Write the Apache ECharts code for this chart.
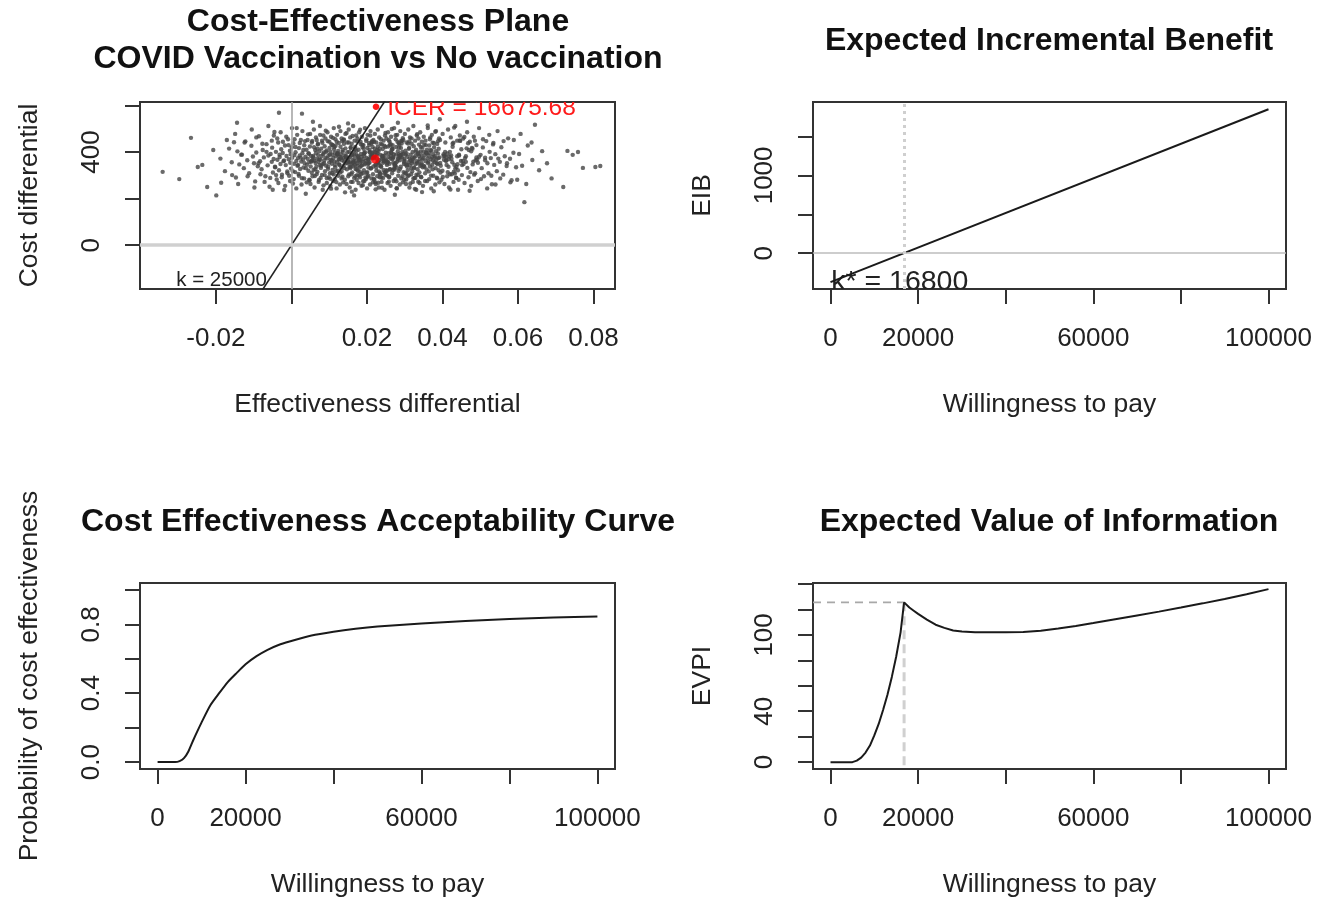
<!DOCTYPE html>
<html>
<head>
<meta charset="utf-8">
<title>BCEA summary</title>
<script src="https://cdn.jsdelivr.net/npm/echarts@6/dist/echarts.min.js"></script>
<style>
  html, body { margin: 0; padding: 0; background: #fff; }
  #main { width: 1319px; height: 900px; }
</style>
</head>
<body>
<div id="main"></div>
<script>
// ---- values ----

// CE plane: simulated (delta effectiveness, delta cost) pairs
var psaPoints = [
  [-.0341,315],[-.0297,284],[-.0266,461],[-.0248,336],[-.0236,345],[-.0223,250],[-.0207,409],
  [-.0199,214],[-.0188,372],[-.0176,318],[-.0165,415],[-.0158,356],[-.0152,442],[-.0144,526],
  [-.0147,291],[-.0143,403],[-.0138,347],[-.0131,389],[-.0126,331],[-.0122,446],[-.0117,365],[-.0112,309],[-.0106,427],[-.0102,381],
  [-.0099,352],[-.0096,274],[-.0093,398],[-.0089,339],[-.0086,468],[-.0083,361],[-.0079,326],[-.0076,409],[-.0073,377],[-.0069,296],[-.0066,434],[-.0063,343],[-.0061,385],[-.0058,251],[-.0055,392],[-.0052,358],[-.0051,419],
  [-.0049,312],[-.0047,370],[-.0045,486],[-.0043,335],[-.0041,401],[-.0039,282],[-.0037,367],[-.0035,441],[-.0033,322],[-.0031,379],[-.0029,349],[-.0027,412],[-.0025,303],[-.0023,396],[-.0021,361],[-.0019,237],[-.0017,428],[-.0015,344],[-.0013,383],[-.0011,317],[-.0009,455],[-.0007,369],[-.0006,298],[-.0004,406],[-.0003,354],[-.0002,391],[-.0001,329],[-.0033,569],
  [.0001,421],[.0002,376],[.0004,265],[.0005,438],[.0007,350],[.0008,387],[.0010,314],[.0011,399],[.0013,362],[.0014,503],[.0016,341],[.0017,374],[.0019,306],[.0020,417],[.0022,385],[.0023,327],[.0025,452],[.0026,359],[.0028,288],[.0029,395],[.0031,368],[.0032,334],[.0034,429],[.0035,352],[.0037,380],[.0038,221],[.0040,410],[.0041,346],[.0043,371],[.0044,476],[.0045,320],[.0046,393],[.0047,357],[.0048,279],[.0049,424],[.0028,565],
  [.0051,338],[.0052,383],[.0053,363],[.0054,311],[.0055,448],[.0056,366],[.0057,530],[.0058,378],[.0059,324],[.0060,421],[.0061,362],[.0062,297],[.0063,409],[.0064,353],[.0065,395],[.0066,337],[.0067,452],[.0068,371],[.0069,315],[.0070,433],[.0071,387],[.0072,358],[.0073,280],[.0074,404],[.0075,345],[.0076,474],[.0077,367],[.0078,332],[.0079,415],[.0080,383],[.0081,302],[.0082,440],[.0083,349],[.0084,391],[.0085,257],[.0086,398],[.0087,364],[.0088,425],[.0089,318],[.0090,376],[.0091,492],[.0092,341],[.0093,407],[.0094,288],[.0095,373],[.0096,447],[.0097,328],[.0098,385],
  [.0100,355],[.0101,418],[.0102,309],[.0103,402],[.0104,367],[.0105,243],[.0106,434],[.0107,350],[.0108,389],[.0109,323],[.0110,461],[.0111,375],[.0112,304],[.0113,412],[.0114,360],[.0115,397],[.0116,335],[.0117,427],[.0118,382],[.0119,271],[.0120,444],[.0121,356],[.0122,393],[.0123,320],[.0124,405],[.0125,368],[.0126,509],[.0127,347],[.0128,380],[.0129,312],[.0130,423],[.0131,391],[.0132,333],[.0133,458],[.0134,365],[.0135,294],[.0136,401],[.0137,374],[.0138,340],[.0139,435],[.0140,358],[.0141,386],[.0142,227],[.0143,416],[.0144,352],[.0145,377],[.0146,482],[.0147,326],[.0148,399],[.0149,363],[.0103,285],[.0109,430],[.0115,344],[.0121,389],[.0127,369],[.0133,317],[.0139,454],[.0145,372],
  [.0150,523],[.0151,359],[.0152,441],[.0153,304],[.0154,356],[.0155,376],[.0156,331],[.0157,417],[.0158,272],[.0159,350],[.0160,386],[.0161,313],[.0162,469],[.0163,364],[.0164,339],[.0165,403],[.0166,214],[.0167,373],[.0168,345],[.0169,422],[.0170,327],[.0171,361],[.0172,388],[.0173,281],[.0174,352],[.0175,445],[.0176,320],[.0177,378],[.0178,410],[.0179,299],[.0180,367],[.0181,334],[.0182,496],[.0183,355],[.0184,392],[.0185,307],[.0186,380],[.0187,343],[.0188,431],[.0189,258],[.0190,369],[.0191,414],[.0192,322],[.0193,384],[.0194,347],[.0195,399],[.0196,291],[.0197,362],[.0198,448],[.0199,310],[.0151,376],[.0154,337],[.0157,421],[.0160,230],[.0163,354],[.0166,389],[.0169,296],[.0172,405],[.0175,342],[.0178,372],[.0181,315],[.0184,434],[.0187,360],[.0190,275],[.0193,394],
  [.0200,375],[.0201,418],[.0202,294],[.0203,350],[.0204,334],[.0205,368],[.0206,430],[.0207,355],[.0208,401],[.0209,471],[.0210,329],[.0211,380],[.0212,437],[.0213,388],[.0214,395],[.0215,422],[.0216,373],[.0217,338],[.0218,285],[.0219,444],[.0220,382],[.0221,415],[.0222,399],[.0223,240],[.0224,347],[.0225,320],[.0226,372],[.0227,409],[.0228,394],[.0229,424],[.0230,268],[.0231,353],[.0232,317],[.0233,365],[.0234,344],[.0235,309],[.0236,388],[.0237,455],[.0238,291],[.0239,371],[.0240,432],[.0241,383],[.0242,413],[.0243,374],[.0244,323],[.0245,360],[.0246,427],[.0247,386],[.0248,314],[.0249,369],[.0201,314],[.0204,352],[.0207,399],[.0210,385],[.0213,442],[.0216,305],[.0219,377],[.0222,270],[.0225,335],[.0228,357],[.0231,405],[.0234,292],[.0237,339],[.0240,247],[.0243,354],[.0246,308],[.0249,482],
  [.0250,397],[.0251,363],[.0252,318],[.0253,345],[.0254,299],[.0255,357],[.0256,424],[.0257,379],[.0258,451],[.0259,294],[.0260,350],[.0261,325],[.0262,372],[.0263,434],[.0264,383],[.0265,395],[.0266,499],[.0267,370],[.0268,413],[.0269,323],[.0270,355],[.0271,391],[.0272,330],[.0273,348],[.0274,217],[.0275,342],[.0276,472],[.0277,389],[.0278,275],[.0279,334],[.0280,359],[.0281,444],[.0282,526],[.0283,374],[.0284,319],[.0285,391],[.0286,432],[.0287,365],[.0288,328],[.0289,379],[.0290,418],[.0291,388],[.0292,437],[.0293,376],[.0294,296],[.0295,460],[.0296,393],[.0297,314],[.0298,349],[.0299,370],[.0252,322],[.0255,358],[.0258,273],[.0261,429],[.0264,399],[.0267,414],[.0270,377],[.0273,325],[.0276,352],[.0279,245],[.0282,404],[.0285,420],[.0288,387],[.0291,449],
  [.0300,363],[.0301,309],[.0302,406],[.0303,347],[.0304,282],[.0305,394],[.0306,338],[.0307,380],[.0308,322],[.0309,437],[.0310,356],[.0311,300],[.0312,418],[.0313,372],[.0314,343],[.0315,265],[.0316,389],[.0317,330],[.0318,459],[.0319,352],[.0320,317],[.0321,400],[.0322,368],[.0323,287],[.0324,425],[.0325,334],[.0326,376],[.0327,242],[.0328,383],[.0329,349],[.0330,410],[.0331,303],[.0332,361],[.0333,477],[.0334,326],[.0335,392],[.0336,273],[.0337,358],[.0338,432],[.0339,313],[.0340,370],[.0341,340],[.0342,403],[.0343,294],[.0344,387],[.0345,352],[.0346,228],[.0347,419],[.0348,335],[.0349,374],[.0304,308],[.0312,446],[.0320,360],[.0328,289],[.0336,397],[.0344,345],
  [.0350,402],[.0351,340],[.0352,432],[.0353,387],[.0354,276],[.0355,449],[.0356,361],[.0357,398],[.0358,325],[.0359,410],[.0360,373],[.0361,514],[.0362,352],[.0363,385],[.0364,317],[.0365,428],[.0366,396],[.0367,338],[.0368,463],[.0369,370],[.0370,299],[.0371,406],[.0372,379],[.0373,345],[.0374,440],[.0375,363],[.0376,391],[.0377,232],[.0378,421],[.0379,357],[.0380,382],[.0381,487],[.0382,331],[.0383,404],[.0384,368],[.0385,290],[.0386,435],[.0387,349],[.0388,394],[.0389,374],[.0390,322],[.0391,459],[.0392,377],[.0393,541],[.0394,353],[.0395,312],
  [.0400,320],[.0401,293],[.0403,391],[.0404,367],[.0406,383],[.0407,400],[.0409,363],[.0410,379],[.0411,345],[.0413,394],[.0414,314],[.0416,337],[.0417,369],[.0419,381],[.0420,305],[.0421,239],[.0423,385],[.0424,371],[.0426,356],[.0427,423],[.0429,440],[.0430,316],[.0431,505],[.0433,308],[.0434,329],[.0436,290],[.0437,336],[.0439,382],[.0440,348],[.0441,322],[.0443,281],[.0444,385],[.0446,450],[.0447,448],[.0449,362],
  [.0450,412],[.0452,344],[.0454,362],[.0456,349],[.0458,465],[.0460,374],[.0462,382],[.0464,416],[.0466,332],[.0468,438],[.0470,409],[.0472,234],[.0474,314],[.0476,403],[.0478,418],[.0480,347],[.0482,359],[.0484,303],[.0486,449],[.0488,365],[.0490,377],[.0492,368],[.0494,354],[.0497,380],[.0465,530],
  [.0501,388],[.0504,331],[.0507,420],[.0510,296],[.0513,365],[.0516,447],[.0519,352],[.0522,309],[.0525,401],[.0528,374],[.0531,262],[.0534,433],[.0537,345],[.0540,391],[.0544,318],[.0548,372],
  [.0552,358],[.0556,421],[.0561,303],[.0565,382],[.0570,340],[.0574,459],[.0579,371],[.0583,279],[.0588,397],[.0595,335],
  [.0603,392],[.0611,341],[.0617,185],[.0626,428],[.0638,366],[.0645,517],
  [.0656,322],[.0664,404],[.0677,352],[.0689,287],[.0720,250],[.0731,405],[.0745,388],
  [.0759,400],[.0772,332],[.0805,336],[.0818,340],
  // wider band of the cloud
  [-.0186,268],[-.0171,452],[-.0157,301],
  [-.0149,478],[-.0141,263],[-.0133,389],[-.0124,441],[-.0116,296],[-.0105,497],
  [-.0098,248],[-.0093,463],[-.0087,352],[-.0082,305],[-.0077,436],[-.0071,272],[-.0066,401],[-.0061,512],[-.0056,289],[-.0052,449],
  [-.00495,238],[-.00465,471],[-.00435,337],[-.00405,301],[-.00375,458],[-.00345,267],[-.00315,389],[-.00285,485],[-.00255,292],[-.00225,444],[-.00195,364],[-.00165,255],[-.00135,466],[-.00105,309],[-.00075,430],[-.00035,276],
  [.00015,503],[.00038,318],[.00061,284],[.00084,455],[.00107,422],[.0013,244],[.00153,474],[.00176,345],[.00199,298],[.00222,439],[.00245,376],[.00268,261],[.00291,490],[.00314,409],[.00337,287],[.0036,447],[.00383,331],[.00406,270],[.00429,452],[.00452,395],[.00475,281],[.00495,478],
  [.00505,263],[.00523,358],[.00541,441],[.00559,296],[.00577,383],[.00595,497],[.00613,248],[.00631,326],[.00649,463],[.00667,305],[.00685,414],[.00703,436],[.00721,272],[.00739,369],[.00757,512],[.00775,289],[.00793,341],[.00811,449],[.00829,238],[.00847,471],[.00865,352],[.00883,301],[.00901,458],[.00919,401],[.00937,267],[.00955,485],[.00973,337],[.00991,292],
  [.01005,444],[.0102,389],[.01034,255],[.01049,466],[.01064,364],[.01078,309],[.01093,430],[.01108,276],[.01122,503],[.01137,422],[.01152,284],[.01166,455],[.01181,318],[.01196,244],[.0121,474],[.01225,395],[.0124,298],[.01254,439],[.01269,345],[.01284,261],[.01298,490],[.01313,376],[.01328,287],[.01342,447],[.01357,409],[.01372,270],[.01386,452],[.01401,331],[.01416,281],[.0143,478],[.01445,383],[.0146,263],[.01474,441],[.01489,352],
  [.01505,296],[.01518,497],[.01531,401],[.01544,248],[.01557,463],[.0157,337],[.01583,305],[.01596,436],[.01609,389],[.01622,272],[.01635,512],[.01648,358],[.01661,289],[.01674,449],[.01687,414],[.017,238],[.01713,471],[.01726,326],[.01739,301],[.01752,458],[.01765,383],[.01778,267],[.01791,485],[.01804,364],[.01817,292],[.0183,444],[.01843,341],[.01856,255],[.01869,466],[.01882,422],[.01895,309],[.01908,430],[.01921,395],[.01934,276],[.01947,503],[.0196,352],[.01973,284],[.01986,455],
  [.02005,244],[.02018,474],[.02031,369],[.02043,298],[.02056,439],[.02069,409],[.02082,261],[.02095,490],[.02107,331],[.0212,287],[.02133,447],[.02146,376],[.02159,270],[.02171,452],[.02184,401],[.02197,281],[.0221,478],[.02223,345],[.02235,263],[.02248,441],[.02261,389],[.02274,296],[.02287,497],[.02299,358],[.02312,248],[.02325,463],[.02338,414],[.02351,305],[.02363,436],[.02376,337],[.02389,272],[.02402,512],[.02415,383],[.02427,289],[.0244,449],[.02453,364],[.02466,238],[.02479,471],[.02491,422],
  [.02505,301],[.02519,458],[.02532,352],[.02546,267],[.02559,485],[.02573,395],[.02586,292],[.026,444],[.02613,326],[.02627,255],[.0264,466],[.02654,409],[.02667,309],[.02681,430],[.02694,376],[.02708,276],[.02721,503],[.02735,341],[.02748,284],[.02762,455],[.02775,422],[.02789,244],[.02802,474],[.02816,369],[.02829,298],[.02843,439],[.02856,383],[.0287,261],[.02883,490],[.02897,337],[.0291,287],[.02924,447],[.02937,401],[.02951,270],[.02964,452],[.02978,358],[.02991,281],
  [.03005,478],[.0302,389],[.03035,263],[.0305,441],[.03065,345],[.0308,296],[.03095,497],[.0311,414],[.03125,248],[.0314,463],[.03155,364],[.0317,305],[.03185,436],[.032,376],[.03215,272],[.0323,512],[.03245,331],[.0326,289],[.03275,449],[.0329,401],[.03305,238],[.0332,471],[.03335,352],[.0335,301],[.03365,458],[.0338,383],[.03395,267],[.0341,485],[.03425,422],[.0344,292],[.03455,444],[.0347,369],[.03485,255],
  [.03505,466],[.03523,337],[.03541,309],[.03559,430],[.03577,395],[.03595,276],[.03613,503],[.03631,358],[.03649,284],[.03667,455],[.03685,409],[.03703,244],[.03721,474],[.03739,326],[.03757,298],[.03775,439],[.03793,376],[.03811,261],[.03829,490],[.03847,352],[.03865,287],[.03883,447],[.03901,414],[.03919,270],[.03937,452],[.03955,341],[.03973,281],
  [.04005,478],[.04029,383],[.04053,263],[.04077,441],[.04101,364],[.04125,296],[.04149,497],[.04173,248],[.04197,401],[.04221,463],[.04245,305],[.04269,436],[.04293,272],[.04317,345],[.04341,512],[.04365,289],[.04389,449],[.04413,238],[.04437,389],[.04461,471],
  [.04515,301],[.0455,458],[.04585,267],[.0462,358],[.04655,485],[.0469,292],[.04725,444],[.0476,255],[.04795,414],[.0483,466],[.04865,309],[.049,430],[.04935,276],[.0497,503],
  [.0502,284],[.05075,455],[.0513,376],[.05185,244],[.0524,474],[.05295,298],[.0535,439],[.05405,261],[.0546,490],
  [.0553,287],[.0562,447],[.0571,352],[.058,270],[.0589,452],[.0598,281],
  [.0607,478],[.0622,263],[.0636,441]
];
var icerMean = [0.0222, 370.2];          // mean delta e, mean delta c
var icerLabel = '\u2022 ICER = 16675.68';
var kLineE = [-0.05, 0.1];               // k = 25000 threshold line
var kLineC = [-1250, 2500];
var kLineLabel = 'k = 25000';

// expected incremental benefit
var eibWtp = [0, 100000];
var eibValues = [-371, 1850];
var kStar = 16800;
var kStarLabel = 'k* = 16800';

// CEAC
var ceacWtp = [0, 2000, 4000, 5000, 6000, 7000, 8000, 9000, 10000, 12000, 14000, 16000, 18000, 20000,
  22500, 25000, 27500, 30000, 35000, 40000, 45000, 50000, 60000, 70000, 80000, 90000, 100000];
var ceacValues = [0, 0, 0, 0.006, 0.023, 0.062, 0.121, 0.177, 0.231, 0.33, 0.40, 0.466, 0.518, 0.568,
  0.615, 0.652, 0.68, 0.70, 0.735, 0.757, 0.774, 0.787, 0.805, 0.82, 0.831, 0.84, 0.846];

// EVPI
var evpiWtp = [0, 5000, 6000, 7000, 8000, 9000, 10000, 11000, 12000, 13000, 14000, 15000, 16000, 16800,
  18000, 19000, 20000, 22000, 24000, 26000, 28000, 30000, 33000, 36000, 40000, 44000, 48000, 52000,
  56000, 60000, 65000, 70000, 75000, 80000, 85000, 90000, 95000, 100000];
var evpiValues = [0, 0, 1.2, 3.5, 7.5, 13, 21, 30, 41, 53, 67, 83, 102, 125.6,
  121.5, 119, 116.5, 112, 108, 105.5, 103.5, 102.6, 102.1, 102, 102, 102.2, 103.3, 105,
  107, 109.3, 112.3, 115.3, 118.3, 121.5, 124.8, 128.3, 132, 136];
var evpiPeak = 125.6;

// axis ticks and the labels R kept
var ceEffTicks = [-0.02, 0, 0.02, 0.04, 0.06, 0.08];
var ceEffLabels = [-0.02, 0.02, 0.04, 0.06, 0.08];
var ceCostTicks = [0, 200, 400, 600];
var ceCostLabels = [0, 400];
var wtpTicks = [0, 20000, 40000, 60000, 80000, 100000];
var wtpLabels = [0, 20000, 60000, 100000];
var eibTicks = [0, 500, 1000, 1500];
var eibLabels = [0, 1000];
var ceacTicks = [0, 0.2, 0.4, 0.6, 0.8, 1];
var ceacLabels = [0, 0.4, 0.8];
var evpiTicks = [0, 20, 40, 60, 80, 100, 120, 140];
var evpiLabels = [0, 40, 100];

// ---- chart ----
var FONT = '"Liberation Sans", Arial, Helvetica, sans-serif';
var INK = '#222';
var chart = echarts.init(document.getElementById('main'));

function zip(a, b) {
  return a.map(function (v, i) { return [v, b[i]]; });
}

function makeXAxis(gi, min, max, ticks, labels, digits, name) {
  return {
    gridIndex: gi, type: 'value', min: min, max: max,
    axisLine: { show: false, onZero: false },
    splitLine: { show: false },
    axisTick: { show: true, length: 15, customValues: ticks, lineStyle: { color: '#333', width: 2 } },
    axisLabel: {
      customValues: labels, margin: 37, fontSize: 26, fontFamily: FONT, color: INK,
      formatter: function (v) { return digits ? v.toFixed(digits) : String(v); }
    },
    name: name, nameLocation: 'middle', nameGap: 102,
    nameTextStyle: { fontSize: 26.5, fontFamily: FONT, color: INK }
  };
}

function makeYAxis(gi, min, max, ticks, labels, digits, name) {
  return {
    gridIndex: gi, type: 'value', min: min, max: max,
    axisLine: { show: false, onZero: false },
    splitLine: { show: false },
    axisTick: { show: true, length: 15, customValues: ticks, lineStyle: { color: '#333', width: 2 } },
    axisLabel: {
      customValues: labels, margin: 35, rotate: 90, fontSize: 26, fontFamily: FONT, color: INK,
      formatter: function (v) { return digits ? v.toFixed(digits) : String(v); }
    },
    name: name, nameLocation: 'middle', nameGap: 97,
    nameTextStyle: { fontSize: 26.5, fontFamily: FONT, color: INK }
  };
}

// text written inside a panel, clipped to it like R's text()
function noteSeries(gi, notes) {
  return {
    type: 'custom', xAxisIndex: gi, yAxisIndex: gi, clip: true, silent: true,
    data: notes.map(function (n) { return n.at; }),
    renderItem: function (params, api) {
      var n = notes[params.dataIndex];
      var p = api.coord([api.value(0), api.value(1)]);
      return {
        type: 'text', x: p[0], y: p[1],
        style: {
          text: n.text, fill: n.color || INK, fontSize: n.size, fontFamily: FONT,
          align: n.align, verticalAlign: 'middle'
        }
      };
    }
  };
}

var gridStyle = { show: true, borderColor: '#333', borderWidth: 2, backgroundColor: 'transparent' };
var titleStyle = { fontSize: 32, fontWeight: 'bold', fontFamily: FONT, color: '#111', lineHeight: 37 };
var curveStyle = { color: '#1a1a1a', width: 2 };
var noMark = { symbol: ['none', 'none'], silent: true, label: { show: false }, animation: false };

var option = {
  backgroundColor: '#fff',
  animation: false,
  title: [
    { text: 'Cost-Effectiveness Plane\nCOVID Vaccination vs No vaccination', left: 378, top: 4, textAlign: 'center', padding: 0, textStyle: titleStyle },
    { text: 'Expected Incremental Benefit', left: 1049, top: 23, textAlign: 'center', padding: 0, textStyle: titleStyle },
    { text: 'Cost Effectiveness Acceptability Curve', left: 378, top: 504, textAlign: 'center', padding: 0, textStyle: titleStyle },
    { text: 'Expected Value of Information', left: 1049, top: 504, textAlign: 'center', padding: 0, textStyle: titleStyle }
  ],
  grid: [
    Object.assign({ left: 140, top: 102, width: 475, height: 187 }, gridStyle),
    Object.assign({ left: 813, top: 102, width: 473, height: 187 }, gridStyle),
    Object.assign({ left: 140, top: 583, width: 475, height: 186 }, gridStyle),
    Object.assign({ left: 813, top: 583, width: 473, height: 186 }, gridStyle)
  ],
  xAxis: [
    makeXAxis(0, -0.0401, 0.0857, ceEffTicks, ceEffLabels, 2, 'Effectiveness differential'),
    makeXAxis(1, -4000, 104000, wtpTicks, wtpLabels, 0, 'Willingness to pay'),
    makeXAxis(2, -4000, 104000, wtpTicks, wtpLabels, 0, 'Willingness to pay'),
    makeXAxis(3, -4000, 104000, wtpTicks, wtpLabels, 0, 'Willingness to pay')
  ],
  yAxis: [
    makeYAxis(0, -188, 615, ceCostTicks, ceCostLabels, 0, 'Cost differential'),
    makeYAxis(1, -460, 1943, eibTicks, eibLabels, 0, 'EIB'),
    makeYAxis(2, -0.04, 1.04, ceacTicks, ceacLabels, 1, 'Probability of cost effectiveness'),
    makeYAxis(3, -5.4, 140.8, evpiTicks, evpiLabels, 0, 'EVPI')
  ],
  series: [
    // CE plane
    {
      type: 'scatter', xAxisIndex: 0, yAxisIndex: 0, silent: true,
      data: psaPoints, symbol: 'circle', symbolSize: 4.4,
      itemStyle: { color: '#454545' }
    },
    {
      type: 'line', xAxisIndex: 0, yAxisIndex: 0, silent: true, showSymbol: false,
      data: zip(kLineE, kLineC), lineStyle: { color: '#222', width: 1.6 },
      markLine: Object.assign({
        data: [
          { xAxis: 0, lineStyle: { color: '#a6a6a6', width: 1.6, type: 'solid' } },
          { yAxis: 0, lineStyle: { color: '#d0d0d0', width: 3.5, type: 'solid' } }
        ]
      }, noMark)
    },
    {
      type: 'scatter', xAxisIndex: 0, yAxisIndex: 0, silent: true,
      data: [icerMean], symbolSize: 9, itemStyle: { color: '#ff0000' }
    },
    noteSeries(0, [
      { at: [0.0213, 590], text: icerLabel, color: '#ff1a1a', size: 24.5, align: 'left' },
      { at: [-0.0065, -151], text: kLineLabel, size: 20.5, align: 'right' }
    ]),
    // EIB
    {
      type: 'line', xAxisIndex: 1, yAxisIndex: 1, silent: true, showSymbol: false,
      data: zip(eibWtp, eibValues), lineStyle: curveStyle,
      markLine: Object.assign({
        data: [
          { yAxis: 0, lineStyle: { color: '#bdbdbd', width: 1.6, type: 'solid' } },
          { xAxis: kStar, lineStyle: { color: '#cfcfcf', width: 3, type: [3, 4] } }
        ]
      }, noMark)
    },
    noteSeries(1, [
      { at: [160, -375], text: kStarLabel, size: 28.5, align: 'left' }
    ]),
    // CEAC
    {
      type: 'line', xAxisIndex: 2, yAxisIndex: 2, silent: true, showSymbol: false, smooth: 0.2,
      data: zip(ceacWtp, ceacValues), lineStyle: curveStyle
    },
    // EVPI
    {
      type: 'line', xAxisIndex: 3, yAxisIndex: 3, silent: true, showSymbol: false,
      data: [[-4000, evpiPeak], [kStar, evpiPeak]],
      lineStyle: { color: '#a8a8a8', width: 1.6, type: [8, 6] }
    },
    {
      type: 'line', xAxisIndex: 3, yAxisIndex: 3, silent: true, showSymbol: false,
      data: [[kStar, evpiPeak], [kStar, -5.4]],
      lineStyle: { color: '#d0d0d0', width: 3, type: [9, 5] }
    },
    {
      type: 'line', xAxisIndex: 3, yAxisIndex: 3, silent: true, showSymbol: false,
      data: zip(evpiWtp, evpiValues), lineStyle: curveStyle
    }
  ]
};

chart.setOption(option);
</script>
</body>
</html>
